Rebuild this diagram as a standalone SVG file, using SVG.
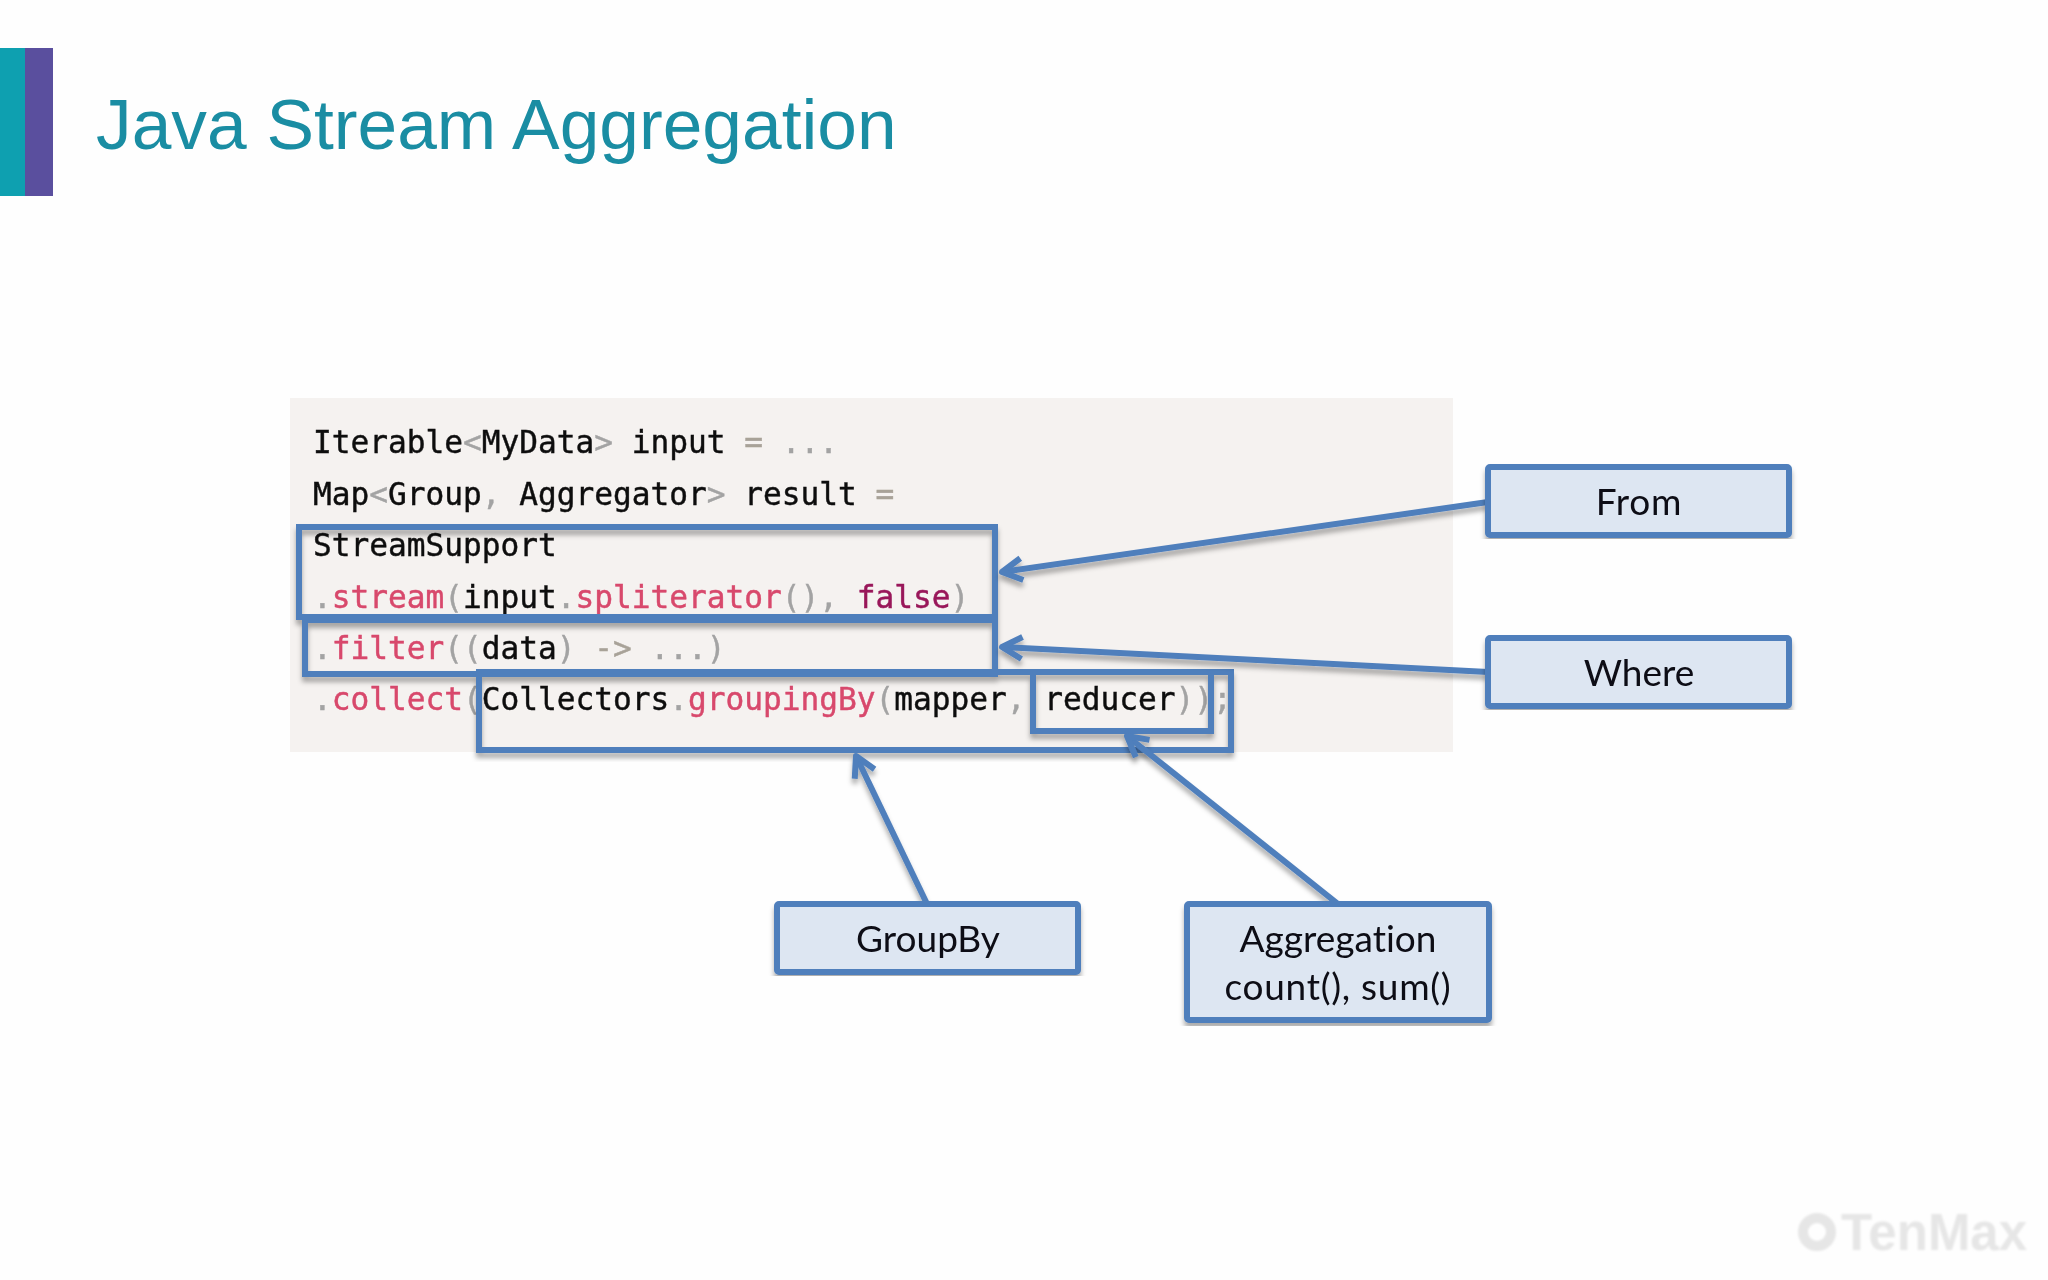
<svg xmlns="http://www.w3.org/2000/svg" width="2048" height="1280" viewBox="0 0 2048 1280">
<style>
.code{font-family:"DejaVu Sans Mono","Liberation Mono",monospace;font-size:31.15px;fill:#111;stroke:#111;stroke-width:.45;white-space:pre}
.p{fill:#a3a3a3;stroke:#a3a3a3}.f{fill:#d8486c;stroke:#d8486c}.b{fill:#99195a;stroke:#99195a}.o{fill:#a8a298;stroke:#a8a298}
.lbl{font-family:Lato,"Open Sans",sans-serif;font-size:37px;fill:#0c0c14;text-anchor:middle;font-variant-ligatures:none}
.node{fill:#dde6f2;stroke:#4f7fbc;stroke-width:6}
.hl{fill:none;stroke:#4f7fbc;stroke-width:6}
.conn{fill:none;stroke:#4f7fbc;stroke-width:6;marker-end:url(#open)}
</style>
<defs>
<filter id="sh" x="-5%" y="-5%" width="110%" height="110%">
<feDropShadow dx="0" dy="5" stdDeviation="2.4" flood-color="#000" flood-opacity="0.32"/>
</filter>
<filter id="soft"><feGaussianBlur stdDeviation="0.5"/></filter>
<filter id="wm" x="-5%" y="-10%" width="110%" height="120%"><feGaussianBlur stdDeviation="1.2"/></filter>
<marker id="open" markerUnits="userSpaceOnUse" markerWidth="40" markerHeight="40" refX="36" refY="20" orient="auto" viewBox="0 0 40 40" overflow="visible">
<path d="M16,9 L36,20 L16,31" fill="none" stroke="#4f7fbc" stroke-width="6" stroke-linejoin="round"/>
</marker>
</defs>
<rect width="2048" height="1280" fill="#fefefe"/>
<g id="title">
<rect x="0" y="48" width="25" height="148" fill="#0ea0b0"/>
<rect x="25" y="48" width="28" height="148" fill="#5a4f9e"/>
<text x="96" y="149" font-family="Liberation Sans,Arial,sans-serif" font-size="71.3" fill="#1a8da3">Java Stream Aggregation</text>
</g>
<g id="code">
<rect x="290" y="398" width="1163" height="354" fill="#f5f2f0"/>
<g filter="url(#soft)">
<text class="code" x="313" y="453"><tspan>Iterable</tspan><tspan class="p">&lt;</tspan><tspan>MyData</tspan><tspan class="p">&gt;</tspan><tspan> input </tspan><tspan class="o">=</tspan><tspan class="p"> ...</tspan></text>
<text class="code" x="313" y="505"><tspan>Map</tspan><tspan class="p">&lt;</tspan><tspan>Group</tspan><tspan class="p">,</tspan><tspan> Aggregator</tspan><tspan class="p">&gt;</tspan><tspan> result </tspan><tspan class="o">=</tspan></text>
<text class="code" x="313" y="556">StreamSupport</text>
<text class="code" x="313" y="608"><tspan class="p">.</tspan><tspan class="f">stream</tspan><tspan class="p">(</tspan><tspan>input</tspan><tspan class="p">.</tspan><tspan class="f">spliterator</tspan><tspan class="p">(),</tspan><tspan> </tspan><tspan class="b">false</tspan><tspan class="p">)</tspan></text>
<text class="code" x="313" y="658.5"><tspan class="p">.</tspan><tspan class="f">filter</tspan><tspan class="p">((</tspan><tspan>data</tspan><tspan class="p">)</tspan><tspan> </tspan><tspan class="o">-&gt;</tspan><tspan class="p"> ...)</tspan></text>
<text class="code" x="313" y="710"><tspan class="p">.</tspan><tspan class="f">collect</tspan><tspan class="p">(</tspan><tspan>Collectors</tspan><tspan class="p">.</tspan><tspan class="f">groupingBy</tspan><tspan class="p">(</tspan><tspan>mapper</tspan><tspan class="p">,</tspan><tspan> reducer</tspan><tspan class="p">));</tspan></text>
</g>
</g>
<g id="highlights" filter="url(#sh)">
<rect id="hl-from" class="hl" x="299" y="527" width="696" height="90"/>
<rect id="hl-where" class="hl" x="305" y="620" width="690" height="54"/>
<rect id="hl-groupby" class="hl" x="479" y="672" width="752" height="78"/>
<rect id="hl-agg" class="hl" x="1033" y="672" width="178" height="59"/>
</g>
<g id="connectors" filter="url(#sh)">
<line class="conn" x1="1488" y1="502" x2="1002" y2="572"/>
<line class="conn" x1="1488" y1="672" x2="1002" y2="647"/>
<line class="conn" x1="928" y1="906" x2="856" y2="756"/>
<line class="conn" x1="1338" y1="904" x2="1127" y2="736"/>
</g>
<g id="node-from" filter="url(#sh)">
<rect class="node" x="1488" y="467" width="301" height="68" rx="2"/>
<text class="lbl" x="1639" y="515" letter-spacing="0.8">From</text>
</g>
<g id="node-where" filter="url(#sh)">
<rect class="node" x="1488" y="638" width="301" height="68" rx="2"/>
<text class="lbl" x="1639" y="686">Where</text>
</g>
<g id="node-groupby" filter="url(#sh)">
<rect class="node" x="777" y="904" width="301" height="68" rx="2"/>
<text class="lbl" x="928" y="952">GroupBy</text>
</g>
<g id="node-aggregation" filter="url(#sh)">
<rect class="node" x="1187" y="904" width="302" height="116" rx="2"/>
<text class="lbl" x="1338" y="952">Aggregation</text>
<text class="lbl" x="1338" y="1000" letter-spacing="0.7">count(), sum()</text>
</g>
<g id="watermark" filter="url(#wm)">
<circle cx="1817" cy="1232" r="14" fill="none" stroke="#e6e6e6" stroke-width="10"/>
<text x="1841" y="1250" font-family="Liberation Sans,Arial,sans-serif" font-size="51" font-weight="700" fill="#e6e6e6">TenMax</text>
</g>
</svg>
